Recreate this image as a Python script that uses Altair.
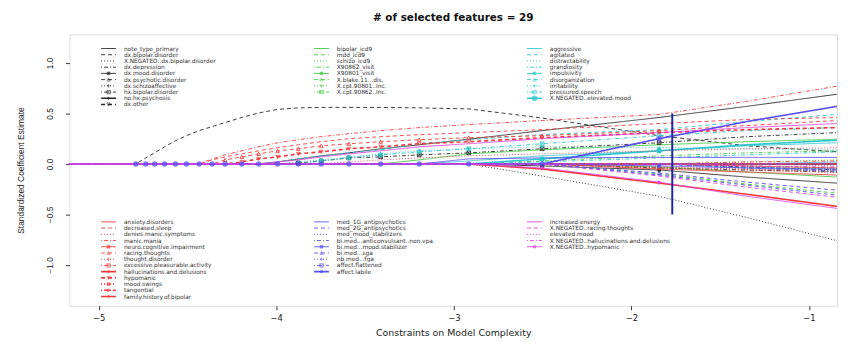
import altair as alt
import pandas as pd

# ---------------- data ----------------
GRID_X = [-5.165, -4.791, -4.735, -4.685, -4.629, -4.568, -4.506, -4.434, -4.361,
          -4.288, -4.194, -4.099, -3.993, -3.876, -3.747, -3.591, -3.412, -3.195,
          -2.916, -2.503, -1.844, -1.35, -0.842]
# grid points that carry plotting symbols
GRID_MARKED = [False, True, True, True, True, True, True, True, True, True, True, True,
               True, True, True, True, True, True, True, True, True, False, False]

BLACK_NAMES = ["note_type_primary", "dx.bipolar.disorder", "X.NEGATED..dx.bipolar.disorder",
               "dx.depression", "dx.mood.disorder", "dx.psychotic.disorder", "dx.schizoaffective",
               "hx.bipolar.disorder", "no.hx.psychosis", "dx.other"]
BLACK_TAILS = [
    [0.0, 0.02, 0.05, 0.08, 0.11, 0.15, 0.19, 0.245, 0.33, 0.46, 0.57, 0.69],
    [0.0, 0.06, 0.11, 0.17, 0.23, 0.28, 0.33, 0.37, 0.41, 0.46, 0.505, 0.54, 0.555,
     0.56, 0.56, 0.56, 0.555, 0.545, 0.455, 0.28, 0.18, 0.12],
    [0.0, -0.12, -0.32, -0.53, -0.76],
    [0.0, -0.04, -0.06, -0.08],
    [0.0, -0.02, -0.06, -0.13, -0.19],
    [0.0, -0.03, -0.06],
    [],
    [0.0, 0.01, 0.03, 0.06, 0.07, 0.09, 0.11, 0.15, 0.21, 0.27, 0.31],
    [],
    [],
]
GREEN_NAMES = ["bipolar_icd9", "mdd_icd9", "schizo_icd9", "X90862_visit", "X90801_visit",
               "X.blake.11...dis.", "X.cpt.90801..Inc.", "X.cpt.90862..Inc."]
GREEN_TAILS = [
    [0.0, 0.04, 0.1, 0.14, 0.19, 0.22, 0.245],
    [0.0, -0.1, -0.2, -0.29],
    [0.0, -0.03, -0.05],
    [0.0, 0.03, 0.08, 0.11, 0.13],
    [0.0, -0.03, -0.08, -0.13],
    [],
    [0.0, 0.02, 0.04],
    [0.0, -0.02, -0.04],
]
CYAN_NAMES = ["aggressive", "agitated", "distractability", "grandiosity", "impulsivity",
              "disorganization", "irritability", "pressured.speech", "X.NEGATED..elevated.mood"]
CYAN_TAILS = [
    [0.0, 0.03, 0.08, 0.13, 0.18, 0.21],
    [0.0, 0.02, 0.05, 0.08, 0.11, 0.14, 0.2, 0.24, 0.29, 0.34, 0.42, 0.49],
    [0.0, -0.03, -0.06],
    [0.0, 0.02, 0.06, 0.09, 0.12],
    [0.0, 0.02],
    [0.0, -0.04, -0.08],
    [0.0, 0.02, 0.04, 0.07, 0.1, 0.13, 0.15, 0.17, 0.16, 0.15, 0.14],
    [0.0, 0.03, 0.06, 0.09, 0.12, 0.15, 0.2, 0.28, 0.33, 0.36],
    [0.0, 0.05, 0.13, 0.19, 0.235],
]
RED_NAMES = ["anxiety.disorders", "decreased.sleep", "denies.manic.symptoms", "manic.mania",
             "neuro.cognitive.impairment", "racing.thoughts", "thought.disorder",
             "excessive.pleasurable.activity", "hallucinations.and.delusions", "hypomanic",
             "mood.swings", "tangential", "family.history.of.bipolar"]
RED_TAILS = [
    [0.0, -0.05, -0.08, -0.11],
    [0.0, 0.04, 0.07, 0.1, 0.13, 0.16, 0.19, 0.22, 0.25, 0.27, 0.29, 0.31, 0.34, 0.40, 0.44, 0.46],
    [0.0, 0.02, 0.04, 0.06, 0.08, 0.1, 0.13, 0.15, 0.16],
    [0.0, 0.05, 0.09, 0.13, 0.17, 0.21, 0.24, 0.27, 0.30, 0.33, 0.36, 0.39, 0.43, 0.49, 0.62, 0.77],
    [0.0, -0.02, -0.04],
    [0.0, 0.04, 0.07, 0.1, 0.13, 0.15, 0.18, 0.2, 0.22, 0.24, 0.26, 0.28, 0.33, 0.38, 0.43],
    [0.0, -0.03, -0.05, -0.07],
    [0.0, 0.02, 0.03],
    [],
    [0.0, 0.02, 0.05, 0.07, 0.1, 0.12, 0.15, 0.17, 0.2, 0.22, 0.26, 0.31, 0.34, 0.36],
    [0.0, -0.04, -0.06, -0.08],
    [],
    [0.0, -0.05, -0.19, -0.3, -0.42],
]
BLUE_NAMES = ["med_1G_antipsychotics", "med_2G_antipsychotics", "med_mood_stabilizers",
              "bi.med...anticonvulsant..non.vpa.", "bi.med...mood.stabilizer", "bi.med...sga",
              "nb.med...fga", "affect.flattened", "affect.labile"]
BLUE_TAILS = [
    [0.0, 0.05, 0.06, 0.065, 0.065, 0.065],
    [0.0, -0.11, -0.21, -0.31],
    [0.0, -0.03, -0.06],
    [],
    [0.0, -0.02, -0.04, -0.05],
    [0.0, -0.09, -0.18, -0.26],
    [0.0, -0.02],
    [0.0, -0.04, -0.07],
    [0.0, 0.25, 0.42, 0.57],
]
MAGENTA_NAMES = ["increased.energy", "X.NEGATED..racing.thoughts", "elevated.mood",
                 "X.NEGATED..hallucinations.and.delusions", "X.NEGATED..hypomanic"]
MAGENTA_TAILS = [
    [0.0, 0.02, 0.04, 0.07, 0.1, 0.13, 0.17, 0.2, 0.25, 0.31, 0.36, 0.40],
    [0.0, -0.12, -0.23, -0.33],
    [0.0, 0.005, 0.01],
    [0.0, -0.02, -0.03],
    [0.0, -0.04, -0.18, -0.32, -0.44],
]

# styles
LTY_CYCLE = ["solid", "dashed", "dotted", "dotdash", "solid", "dashed", "dotted", "dotdash",
             "solid", "dashed", "dotted", "dotdash", "solid"]
MARK_CYCLE = ["none", "none", "none", "none", "sq", "tri", "plus", "boxx", "dia", "tridn",
              "sq", "circ", "dia"]
DASHES = {"solid": [1, 0], "dashed": [4, 3], "dotted": [1, 2], "dotdash": [1, 2, 4, 2]}
SHAPES = {
    "none": "circle", "sq": "square", "tri": "triangle-up", "plus": "M-1,0H1M0,-1V1",
    "boxx": "M-1,-1H1V1H-1ZM-1,-1L1,1M1,-1L-1,1", "dia": "diamond", "tridn": "triangle-down",
    "circ": "circle", "big": "circle",
}
FILLED = {"sq", "dia", "circ", "big"}

GROUPS = [  # (names, tails, colour, legend block, legend column)
    (BLACK_NAMES, BLACK_TAILS, "#262626", 0, 0),
    (GREEN_NAMES, GREEN_TAILS, "#3cc83c", 0, 1),
    (CYAN_NAMES, CYAN_TAILS, "#2cc6cf", 0, 2),
    (RED_NAMES, RED_TAILS, "#f03a3a", 1, 0),
    (BLUE_NAMES, BLUE_TAILS, "#5a4ff0", 1, 1),
    (MAGENTA_NAMES, MAGENTA_TAILS, "#e040e0", 1, 2),
]
SPECIAL_MARK = {"X.NEGATED..elevated.mood": "big", "affect.labile": "circ",
                "X.NEGATED..hypomanic": "circ"}
LEGEND_BLOCK_START = [0.0, 27.87]   # legend row slots where the two legend boxes begin

VLINE_X = [-1.77]
VLINE_LO = [-0.5]
VLINE_HI = [0.5]

# ---------------- build tables ----------------
all_names, all_colors, all_dashes, all_shapes = [], [], [], []
path_rows, pt_rows, leg_rows = [], [], []
n = len(GRID_X)
for names, tails, col, block, lcol in GROUPS:
    for i, (nm, tail) in enumerate(zip(names, tails)):
        lty = LTY_CYCLE[i]
        mk = SPECIAL_MARK.get(nm, MARK_CYCLE[i])
        sw = 1.6 if i >= 8 else 0.9
        all_names.append(nm)
        all_colors.append(col)
        all_dashes.append(DASHES[lty])
        all_shapes.append(SHAPES[mk])
        vals = [0.0] * (n - len(tail)) + list(tail)
        for gx, v, m in zip(GRID_X, vals, GRID_MARKED):
            path_rows.append({"name": nm, "x": gx, "y": v, "sw": sw})
            if mk != "none" and m and (v != 0.0 or nm == "affect.labile"):
                pt_rows.append({"name": nm, "x": gx, "y": v, "kind": mk})
        leg_rows.append({"name": nm, "label": nm, "col": lcol,
                         "slot": LEGEND_BLOCK_START[block] + i, "sw": sw, "kind": mk})

path_df = pd.DataFrame(path_rows)
pt_df = pd.DataFrame(pt_rows)
leg_df = pd.DataFrame(leg_rows)
v_df = pd.DataFrame({"x": VLINE_X, "y": VLINE_LO, "y2": VLINE_HI})

# ---------------- scales & encodings ----------------
color_scale = alt.Scale(domain=all_names, range=all_colors)
dash_scale = alt.Scale(domain=all_names, range=all_dashes)
shape_scale = alt.Scale(domain=all_names, range=all_shapes)

X_ENC = alt.X("x:Q", title="Constraints on Model Complexity",
              scale=alt.Scale(domain=[-5.165, -0.842], nice=False, zero=False),
              axis=alt.Axis(values=[-5, -4, -3, -2, -1], format="d", grid=False, domain=False,
                            tickSize=4, tickColor="#333333", labelFont="DejaVu Sans",
                            labelFontSize=8.5, labelPadding=4, labelColor="#222222",
                            labelFlush=False, titleFont="DejaVu Sans", titleFontSize=9.5,
                            titleFontWeight="normal", titleColor="#222222", titleY=27,
                            titleBaseline="middle"))
Y_ENC = alt.Y("y:Q", title="Standardized Coefficient Estimate",
              scale=alt.Scale(domain=[-1.404, 1.283], nice=False, zero=False),
              axis=alt.Axis(values=[-1, -0.5, 0, 0.5, 1], format=".1f", grid=False, domain=False,
                            tickSize=4, tickColor="#333333", labelFont="Liberation Sans",
                            labelFontSize=8.5, labelAngle=270, labelAlign="center",
                            labelBaseline="bottom", labelPadding=11, labelColor="#222222",
                            labelFlush=False, titleFont="Liberation Sans Narrow, Liberation Sans",
                            titleFontSize=8.5, titleFontWeight="normal", titleColor="#222222",
                            titleAngle=270, titleX=-49, titleY=137, titleAlign="center",
                            titleBaseline="middle"))

lines = alt.Chart(path_df).mark_line(clip=True).encode(
    x=X_ENC, y=Y_ENC,
    color=alt.Color("name:N", scale=color_scale, legend=None),
    strokeDash=alt.StrokeDash("name:N", scale=dash_scale, legend=None),
    strokeWidth=alt.StrokeWidth("sw:Q", scale=None, legend=None),
    detail="name:N",
)

def pts(df, filled, size, opacity=1.0):
    return alt.Chart(df).mark_point(filled=filled, size=size, opacity=opacity,
                                    strokeWidth=0.8, clip=True).encode(
        x=X_ENC, y=Y_ENC,
        color=alt.Color("name:N", scale=color_scale, legend=None),
        shape=alt.Shape("name:N", scale=shape_scale, legend=None),
    )

open_df = pt_df[~pt_df["kind"].isin(FILLED)]
fill_df = pt_df[pt_df["kind"].isin(FILLED) & (pt_df["kind"] != "big") & (pt_df["name"] != "affect.labile")]
big_df = pt_df[pt_df["kind"] == "big"]
lab_df = pt_df[pt_df["name"] == "affect.labile"]

vrule = alt.Chart(v_df).mark_rule(color="#24249a", strokeWidth=2).encode(
    x=X_ENC, y=Y_ENC, y2="y2:Q")

main = alt.layer(lines, pts(open_df, False, 14), pts(fill_df, True, 12),
                 pts(big_df, True, 30), pts(lab_df, True, 30, 0.75), vrule)

# ---------------- legend boxes (inside the plot) ----------------
LX = alt.X("col:Q", scale=alt.Scale(domain=[0, 2], range=[32, 462]), axis=None)
LY = alt.Y("slot:Q", scale=alt.Scale(domain=[0, 40], range=[14.3, 265.5]), axis=None)

leg_lines = alt.Chart(leg_df).mark_rule(x2Offset=15).encode(
    x=LX, x2="col:Q", y=LY,
    color=alt.Color("name:N", scale=color_scale, legend=None),
    strokeDash=alt.StrokeDash("name:N", scale=dash_scale, legend=None),
    strokeWidth=alt.StrokeWidth("sw:Q", scale=None, legend=None),
)

def leg_pts(df, filled, size):
    return alt.Chart(df).mark_point(filled=filled, size=size, xOffset=7.5, strokeWidth=0.8).encode(
        x=LX, y=LY,
        color=alt.Color("name:N", scale=color_scale, legend=None),
        shape=alt.Shape("name:N", scale=shape_scale, legend=None),
    )

leg_open = leg_df[(leg_df["kind"] != "none") & ~leg_df["kind"].isin(FILLED)]
leg_fill = leg_df[leg_df["kind"].isin(FILLED) & (leg_df["kind"] != "big")]
leg_big = leg_df[leg_df["kind"] == "big"]

leg_text = alt.Chart(leg_df).mark_text(align="left", baseline="middle", dx=23,
                                       font="DejaVu Sans", fontSize=5.9, color="#333333").encode(
    x=LX, y=LY, text="label:N")

legend = alt.layer(leg_lines, leg_pts(leg_open, False, 12), leg_pts(leg_fill, True, 12),
                   leg_pts(leg_big, True, 34), leg_text)

chart = alt.layer(main, legend).resolve_scale(x="independent", y="independent").properties(
    width=775, height=274,
    title=alt.TitleParams("# of selected features = 29", font="DejaVu Sans", fontSize=10.5,
                          fontWeight="bold", anchor="middle", offset=11, color="#111111"),
    padding={"left": 62, "top": 25, "right": 6, "bottom": 37},
    autosize=alt.AutoSizeParams(type="none"),
).configure_view(stroke="#333333", strokeWidth=1).configure(background="white")

chart.save("out.html", embed_options={"renderer": "svg", "actions": False})
